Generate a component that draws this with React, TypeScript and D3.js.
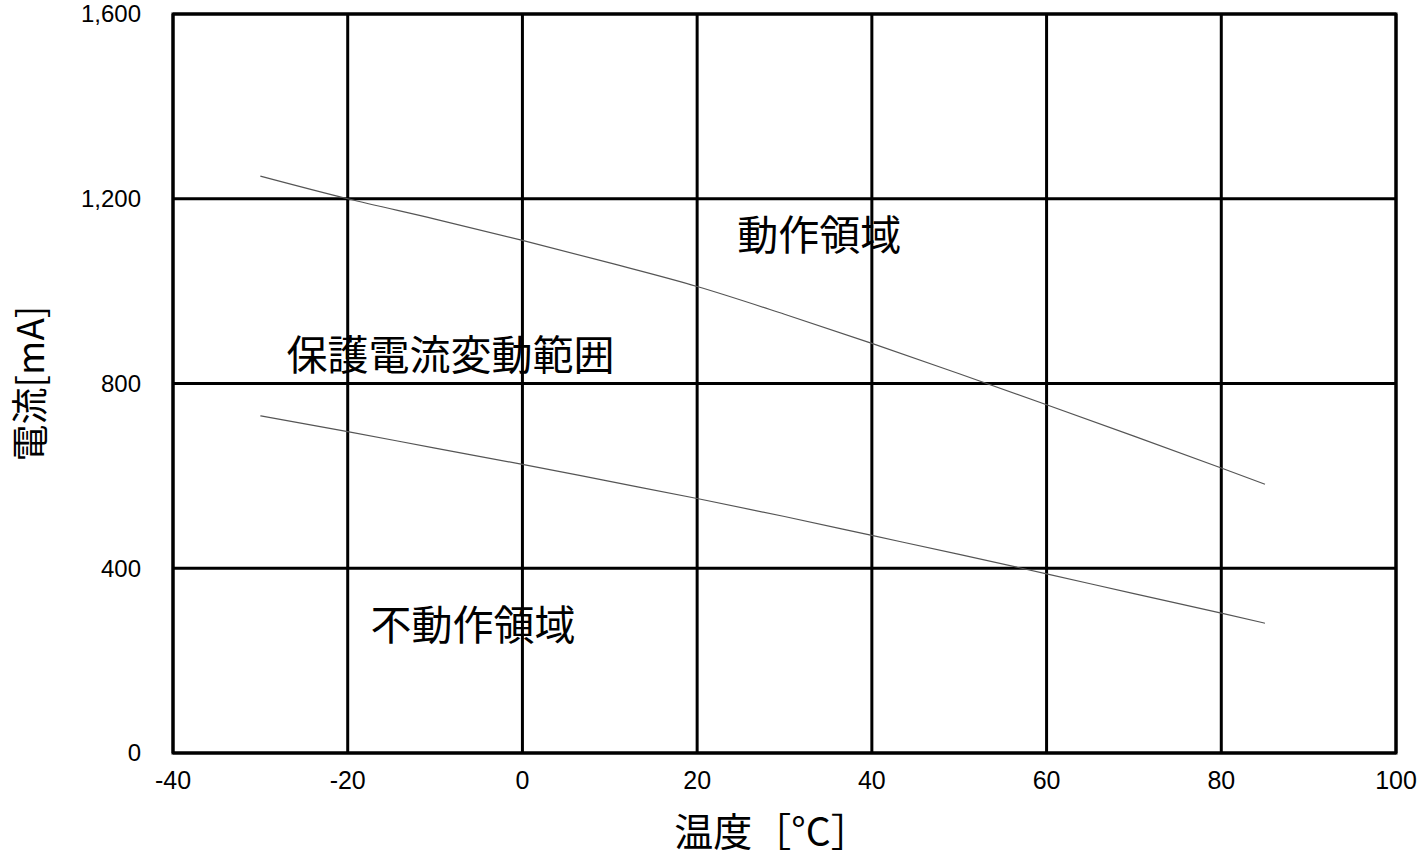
import { useEffect, useRef } from 'react';
import * as d3 from 'd3';

// temperature [°C] sampled along both curves
const temps = [-30, -20, -10, 0, 10, 20, 30, 40, 50, 60, 70, 80, 85];
// upper boundary (operating threshold) [mA]
const upperCurrent = [1249, 1200, 1156, 1110, 1061, 1010, 950, 887, 821, 754, 686, 617, 582];
// lower boundary (non-operating threshold) [mA]
const lowerCurrent = [730, 696, 660, 625, 588, 551, 512, 471, 430, 388, 345, 303, 281];

const xTicks = [-40, -20, 0, 20, 40, 60, 80, 100];
const yTicks = [0, 400, 800, 1200, 1600];

// region annotations: [text, temp at left edge, current at text centre]
const regionLabels: [string, number, number][] = [
  ['動作領域', 24.6, 1120],
  ['保護電流変動範囲', -27, 862],
  ['不動作領域', -17.4, 277],
];

const W = 1422;
const H = 856;
const margin = { top: 14, right: 26, bottom: 103, left: 173 };

const CJK = '"Noto Sans CJK JP", "Noto Sans", sans-serif';
const LATIN = '"Liberation Sans", Arial, sans-serif';

export default function App() {
  const svgRef = useRef<SVGSVGElement>(null);

  useEffect(() => {
    if (!svgRef.current) return;
    const svg = d3.select(svgRef.current);
    svg.selectAll('*').remove();

    const x = d3.scaleLinear().domain([-40, 100]).range([margin.left, W - margin.right]);
    const y = d3.scaleLinear().domain([0, 1600]).range([H - margin.bottom, margin.top]);

    svg.append('rect').attr('width', W).attr('height', H).attr('fill', '#fff');

    // grid
    const grid = svg.append('g').attr('stroke', '#000').attr('stroke-width', 3);
    grid
      .selectAll('line.v')
      .data(xTicks)
      .join('line')
      .attr('class', 'v')
      .attr('x1', (d) => x(d))
      .attr('x2', (d) => x(d))
      .attr('y1', y(0))
      .attr('y2', y(1600));
    grid
      .selectAll('line.h')
      .data(yTicks)
      .join('line')
      .attr('class', 'h')
      .attr('x1', x(-40))
      .attr('x2', x(100))
      .attr('y1', (d) => y(d))
      .attr('y2', (d) => y(d));
    grid
      .append('rect')
      .attr('x', x(-40))
      .attr('y', y(1600))
      .attr('width', x(100) - x(-40))
      .attr('height', y(0) - y(1600))
      .attr('fill', 'none')
      .attr('stroke-linecap', 'square');

    // tick labels
    svg
      .append('g')
      .selectAll('text')
      .data(yTicks)
      .join('text')
      .attr('x', margin.left - 32)
      .attr('y', (d) => y(d))
      .attr('dy', '0.35em')
      .attr('text-anchor', 'end')
      .attr('font-family', LATIN)
      .attr('font-size', 24)
      .text((d) => d3.format(',')(d));

    svg
      .append('g')
      .selectAll('text')
      .data(xTicks)
      .join('text')
      .attr('x', (d) => x(d))
      .attr('y', y(0) + 36)
      .attr('text-anchor', 'middle')
      .attr('font-family', LATIN)
      .attr('font-size', 25)
      .text((d) => String(d));

    // curves
    const line = d3
      .line<number>()
      .x((_, i) => x(temps[i]))
      .y((d) => y(d))
      .curve(d3.curveMonotoneX);

    [upperCurrent, lowerCurrent].forEach((series) => {
      svg
        .append('path')
        .datum(series)
        .attr('d', line)
        .attr('fill', 'none')
        .attr('stroke', '#555')
        .attr('stroke-width', 1.2);
    });

    // region annotations
    svg
      .append('g')
      .selectAll('text')
      .data(regionLabels)
      .join('text')
      .attr('x', (d) => x(d[1]))
      .attr('y', (d) => y(d[2]))
      .attr('dy', '0.36em')
      .attr('font-family', CJK)
      .attr('font-size', 41)
      .text((d) => d[0]);

    // axis titles
    svg
      .append('text')
      .attr('x', 772)
      .attr('y', 846)
      .attr('text-anchor', 'middle')
      .attr('font-family', CJK)
      .attr('font-size', 39)
      .text('温度［°C］');

    svg
      .append('text')
      .attr('transform', `translate(44, ${(y(0) + y(1600)) / 2}) rotate(-90)`)
      .attr('text-anchor', 'middle')
      .attr('font-family', CJK)
      .attr('font-size', 37)
      .text('電流[mA]');
  }, []);

  return (
    <svg
      ref={svgRef}
      width={W}
      height={H}
      style={{ position: 'absolute', left: 0, top: 0, display: 'block' }}
    />
  );
}
